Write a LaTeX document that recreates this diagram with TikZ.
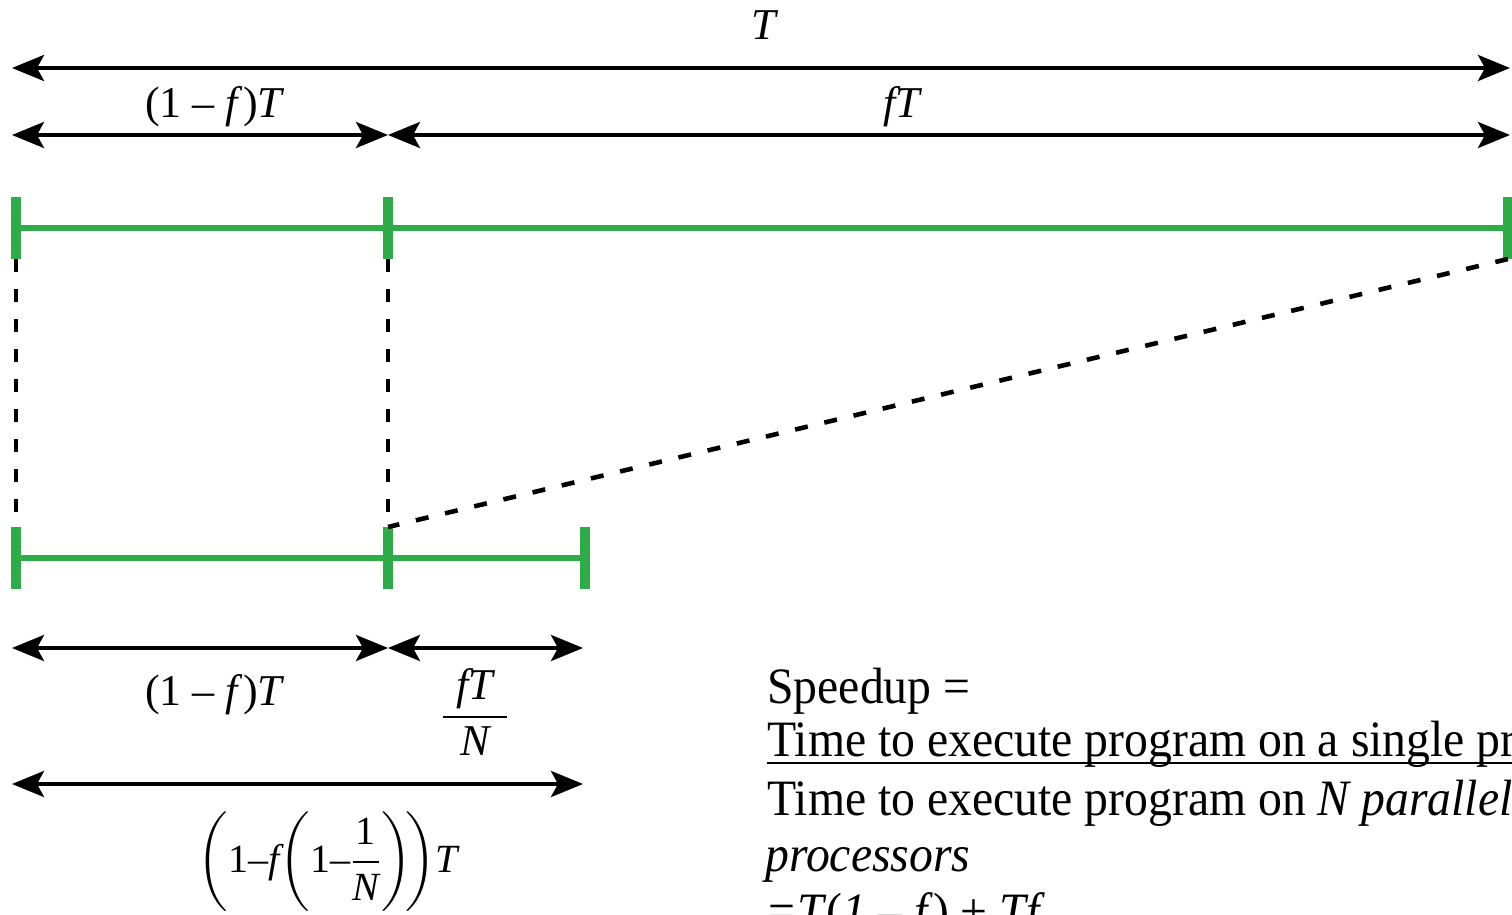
\documentclass[tikz,border=0pt]{standalone}
\usepackage{amsmath}
\usepackage{fontspec}
\setmainfont{Liberation Serif}
\newfontfamily\narrowserif{Liberation Serif}[FakeStretch=0.935]
\usetikzlibrary{arrows.meta}
\definecolor{bargreen}{RGB}{46,172,72}

\begin{document}
\begin{tikzpicture}[x=0.5pt, y=-0.5pt, line cap=butt,
  dim/.style={line width=2pt, {Stealth[length=16pt,width=13pt,inset=3.5pt]}-{Stealth[length=16pt,width=13pt,inset=3.5pt]}},
  bar/.style={line width=3pt, bargreen},
  tickmark/.style={line width=5pt, bargreen},
  guide/.style={line width=2.3pt, dash pattern=on 6.5pt off 8.5pt},
  lbl/.style={font=\fontsize{22}{26}\selectfont, inner sep=0pt},
  txt/.style={font=\narrowserif\fontsize{25.5}{28.5}\selectfont, inner sep=0pt, anchor=base west}]
  \useasboundingbox (0,0) rectangle (1512,915);
  \clip (0,0) rectangle (1512,915);

  % --- serial run (top bar) ---
  \coordinate (S-l) at (16,228);
  \coordinate (S-m) at (388,228);
  \coordinate (S-r) at (1508,228);
  % --- parallel run (bottom bar) ---
  \coordinate (P-l) at (16,558);
  \coordinate (P-m) at (388,558);
  \coordinate (P-r) at (585,558);

  % === dimension arrows above ===
  \coordinate (D1-l) at (12,68);
  \coordinate (D1-r) at (1510,68);
  \coordinate (D2-l) at (12,135);
  \coordinate (D2-m) at (388,135);
  \coordinate (D2-r) at (1510,135);
  \draw[dim] (D1-l) -- (D1-r);
  \draw[dim] (D2-l) -- (D2-m);
  \draw[dim] (D2-m) -- (D2-r);
  \node[lbl] (totT) at (765,25) {\textit{T}};
  \node[lbl] (serT) at (215,107) {(1 – \textit{f})\textit{T}};
  \node[lbl] (parT) at (903,107) {\textit{fT}};

  % === bars ===
  \draw[bar] (S-l) -- (S-r);
  \draw[bar] (P-l) -- (P-r);
  \foreach \c in {S-l,S-m,S-r,P-l,P-m,P-r}
    \draw[tickmark] ([yshift=15.5pt]\c) -- ([yshift=-15.5pt]\c);

  % === dashed guides ===
  \draw[guide] ([yshift=-15.5pt]S-l) -- ([yshift=15.5pt]P-l);
  \draw[guide] ([yshift=-15.5pt]S-m) -- ([yshift=15.5pt]P-m);
  \draw[guide] ([yshift=-15.5pt]S-r) -- ([yshift=15.5pt]P-m);

  % === dimension arrows below ===
  \coordinate (D3-l) at (12,648);
  \coordinate (D3-m) at (388,648);
  \coordinate (D3-r) at (583,648);
  \coordinate (D4-l) at (12,784);
  \coordinate (D4-r) at (583,784);
  \draw[dim] (D3-l) -- (D3-m);
  \draw[dim] (D3-m) -- (D3-r);
  \draw[dim] (D4-l) -- (D4-r);
  \node[lbl] (serP) at (215,695) {(1 – \textit{f})\textit{T}};
  \node[lbl] (parP) at (475,712)
    {$\displaystyle\frac{\hspace{7pt}\textit{fT}\hspace{7pt}}{\textit{N}}$};
  \node[lbl, font=\fontsize{20}{24}\selectfont] (totP) at (328,862)
    {$\displaystyle\left(\text{1–}\textit{f}\!\left(\text{1–}\frac{\text{1}}{\textit{N}}\right)\!\right)\!\textit{T}$};

  % === speedup text ===
  \node[txt] (sp1) at (767,703) {Speedup =};
  \node[txt] (sp2) at (767,756) {Time to execute program on a single processor};
  \draw[line width=1.2pt] ([yshift=-3.5pt]sp2.base west) -- ([yshift=-3.5pt]sp2.base east);
  \node[txt] (sp3) at (767,815) {Time to execute program on \textit{N parallel}};
  \node[txt] (sp4) at (765,871) {\textit{processors}};
  \node[txt] (sp5) at (765,928) {\textit{=T}(\textit{1} – \textit{f}) + \textit{Tf}};
\end{tikzpicture}
\end{document}
